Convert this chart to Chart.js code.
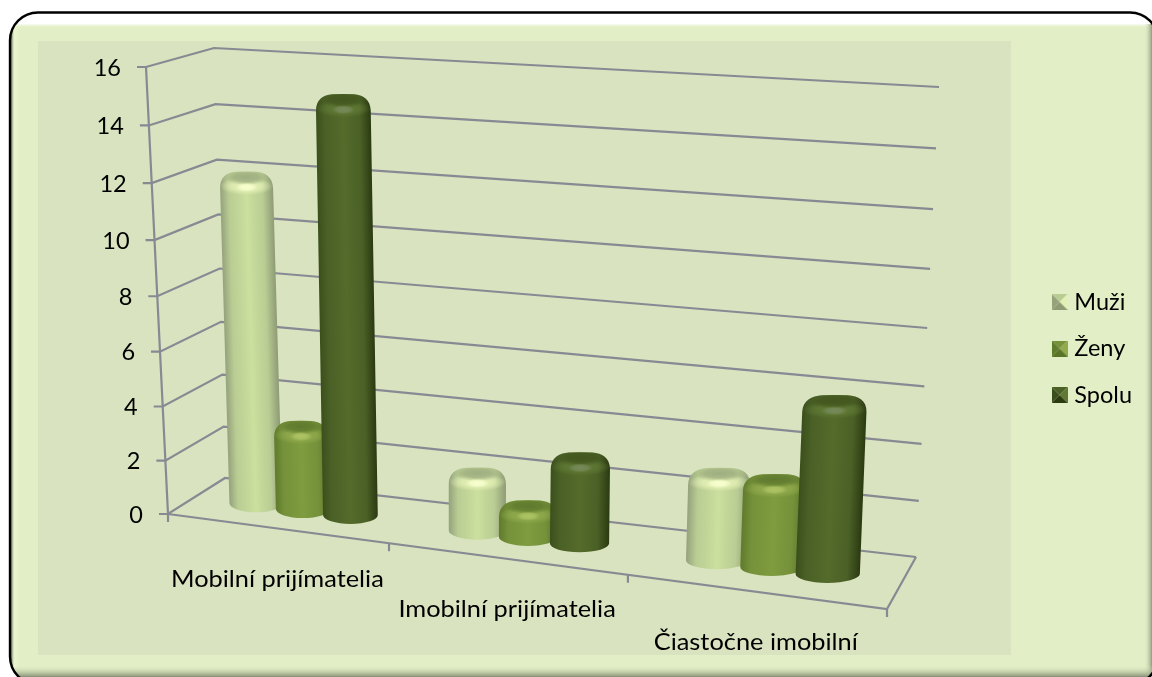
<!DOCTYPE html>
<html>
<head>
<meta charset="utf-8">
<style>
  html, body { margin: 0; padding: 0; background: #fff; }
  canvas { display: block; }
</style>
<script src="https://cdn.jsdelivr.net/npm/chart.js@4"></script>
</head>
<body>
<canvas id="canvas" width="1152" height="677"></canvas>
<script>
// data
var categories = ['Mobilní prijímatelia', 'Imobilní prijímatelia', 'Čiastočne imobilní'];
var seriesNames = ['Muži', 'Ženy', 'Spolu'];
var muzi = [12, 2, 3];
var zeny = [3, 1, 3];
var spolu = [15, 3, 6];
var yMax = 16;
var yStep = 2;

var fontName = 'Lato, Carlito, "Open Sans", sans-serif';
var fontPx = 23.5;

// colours of each cylinder, key is the dataset colour
var palette = {
    '#cbdf9e': { edgeL: '#95a27c', edgeR: '#8e9b75', soft: '#b9cc93', face: '#9fae80', band: '#e3f0b5', glow: '#f8ffcf' },
    '#7f9c3f': { edgeL: '#5f7b2c', edgeR: '#5a7428', soft: '#75913a', face: '#5f7a2d', band: '#90aa4c', glow: '#adc364' },
    '#546b2b': { edgeL: '#3b4f1c', edgeR: '#2b3a11', soft: '#4a6026', face: '#42561e', band: '#5f7834', glow: '#76895a' }
};
var barColors = ['#cbdf9e', '#7f9c3f', '#546b2b'];

// the box of the 3d chart on the page (f front, b back, l left, r right)
var box = {
    fbl: [168, 514], fbr: [887, 609], ftl: [146, 67], ftr: [911, 125],
    bbl: [225, 478], bbr: [916, 557], btl: [214, 48], btr: [939, 87]
};
var barDepth = 0.5;
var barShrink = 0.985; // bars stand inside the box, a little shorter than the walls
var capRy = 9;
var xs, ys;
var pending = [];

function warp(u, a) { return a * u / (1 + (a - 1) * u); }
function mix(p, q, u) { return [p[0] + (q[0] - p[0]) * u, p[1] + (q[1] - p[1]) * u]; }

function project(s, t, d) {
    var u = warp(s, 0.8876);
    var v = warp(t, 0.95);
    var f = mix(mix(box.fbl, box.fbr, u), mix(box.ftl, box.ftr, u), v);
    var b = mix(mix(box.bbl, box.bbr, u), mix(box.btl, box.btr, u), v);
    return mix(f, b, d);
}
function sOf(px) { return (px - xs.left) / xs.width; }
function tOf(py) { return (ys.bottom - py) / ys.height; }

function softSpot(ctx, x, y, rx, ry, color) {
    ctx.save();
    ctx.translate(x, y);
    ctx.scale(rx, ry);
    var g = ctx.createRadialGradient(0, 0, 0, 0, 0, 1);
    g.addColorStop(0, color);
    g.addColorStop(0.55, color + 'cc');
    g.addColorStop(1, color + '00');
    ctx.fillStyle = g;
    ctx.fillRect(-1, -1, 2, 2);
    ctx.restore();
}

function drawCylinder(ctx, el) {
    var p = el.getProps(['x', 'y', 'base', 'width'], false);
    var c = palette[el.options.backgroundColor];
    var s = sOf(p.x);
    var bot = project(s, tOf(p.base), barDepth);
    var top = mix(bot, project(s, tOf(p.y), barDepth), barShrink);
    var half = p.width / 2;
    var a = project(sOf(p.x - half), tOf(p.base), barDepth);
    var b = project(sOf(p.x + half), tOf(p.base), barDepth);
    var r = (b[0] - a[0]) / 2;
    var x = bot[0], yb = bot[1], yt = top[1];
    var k = (top[0] - bot[0]) / (yt - yb);

    ctx.save();
    ctx.transform(1, 0, k, 1, -k * yb, 0);

    ctx.beginPath();
    ctx.moveTo(x - r, yt + 7);
    ctx.lineTo(x - r, yb);
    ctx.ellipse(x, yb, r, capRy, 0, Math.PI, 0, true);
    ctx.lineTo(x + r, yt + 7);
    ctx.bezierCurveTo(x + r, yt - 4, x + r * 0.72, yt - capRy, x + r * 0.4, yt - capRy - 0.5);
    ctx.quadraticCurveTo(x, yt - capRy - 1, x - r * 0.4, yt - capRy - 0.5);
    ctx.bezierCurveTo(x - r * 0.72, yt - capRy, x - r, yt - 4, x - r, yt + 7);
    ctx.closePath();

    var g = ctx.createLinearGradient(x - r, 0, x + r, 0);
    g.addColorStop(0, c.edgeL);
    g.addColorStop(0.16, c.soft);
    g.addColorStop(0.5, el.options.backgroundColor);
    g.addColorStop(0.8, c.soft);
    g.addColorStop(1, c.edgeR);
    ctx.fillStyle = g;
    ctx.fill();

    ctx.clip();
    softSpot(ctx, x, yt + 5, r * 1.0, 9, c.band);
    softSpot(ctx, x, yt - 4, r * 0.85, 8, c.face);
    softSpot(ctx, x, yt + 6, r * 0.42, 4.5, c.glow);
    ctx.restore();
}

// the library hands every bar over here, they are painted later so that Spolu stays in front
Chart.BarElement.prototype.draw = function () {
    pending.push(this);
};

var boxPlugin = {
    id: 'box3d',
    beforeDraw: function (chart) {
        var ctx = chart.ctx;
        ctx.save();
        ctx.fillStyle = '#ffffff';
        ctx.fillRect(0, 0, chart.width, chart.height);

        ctx.beginPath();
        ctx.roundRect(10, 12.5, 1148, 672, 28);
        ctx.fillStyle = '#e2efc6';
        ctx.fill();
        ctx.save();
        ctx.clip();
        var g = ctx.createLinearGradient(10, 0, 20, 0);
        g.addColorStop(0, '#4f5644');
        g.addColorStop(0.4, '#eaf6ce');
        g.addColorStop(1, '#e2efc6');
        ctx.fillStyle = g;
        ctx.fillRect(10, 12, 10, 670);
        g = ctx.createLinearGradient(0, 13, 0, 28);
        g.addColorStop(0, '#ffffff');
        g.addColorStop(0.72, '#ffffff');
        g.addColorStop(1, 'rgba(226,239,198,0)');
        ctx.fillStyle = g;
        ctx.fillRect(10, 13, 1140, 15);
        g = ctx.createLinearGradient(1144, 0, 1152, 0);
        g.addColorStop(0, 'rgba(226,239,198,0)');
        g.addColorStop(1, '#8f9a80');
        ctx.fillStyle = g;
        ctx.fillRect(1144, 24, 8, 653);
        g = ctx.createLinearGradient(0, 665, 0, 677);
        g.addColorStop(0, 'rgba(226,239,198,0)');
        g.addColorStop(1, '#858e74');
        ctx.fillStyle = g;
        ctx.fillRect(10, 665, 1142, 12);
        ctx.restore();
        ctx.lineWidth = 2.4;
        ctx.strokeStyle = '#000000';
        ctx.stroke();

        // inner panel behind the plot
        ctx.fillStyle = '#d9e3bf';
        ctx.fillRect(38, 41, 973, 614);
        ctx.restore();
    },
    beforeDatasetsDraw: function (chart) {
        xs = chart.scales.x;
        ys = chart.scales.y;
        pending = [];
        var ctx = chart.ctx;
        ctx.save();
        ctx.strokeStyle = '#888993';
        ctx.lineWidth = 2.2;

        // walls, one line per tick of the value scale
        ys.ticks.forEach(function (tick) {
            var t = tOf(ys.getPixelForValue(tick.value));
            var p0 = project(0, t, 0), p1 = project(0, t, 1), p2 = project(1, t, 1);
            ctx.beginPath();
            ctx.moveTo(p0[0] - 9, p0[1]);
            ctx.lineTo(p0[0], p0[1]);
            ctx.lineTo(p1[0], p1[1]);
            ctx.lineTo(p2[0], p2[1]);
            ctx.stroke();
        });

        // value axis
        var a0 = project(0, 0, 0), a1 = project(0, 1, 0);
        ctx.beginPath();
        ctx.moveTo(a1[0], a1[1]);
        ctx.lineTo(a0[0], a0[1]);
        ctx.lineTo(a0[0], a0[1] + 8);
        ctx.stroke();

        // floor front and right edge
        var f0 = project(1, 0, 0), f1 = project(1, 0, 1);
        ctx.beginPath();
        ctx.moveTo(a0[0], a0[1]);
        ctx.lineTo(f0[0], f0[1]);
        ctx.lineTo(f1[0], f1[1]);
        ctx.stroke();

        // category ticks
        for (var i = 1; i <= categories.length; i++) {
            var m = project(i / categories.length, 0, 0);
            ctx.beginPath();
            ctx.moveTo(m[0], m[1]);
            ctx.lineTo(m[0], m[1] + 8);
            ctx.stroke();
        }
        ctx.restore();
    },
    afterDatasetsDraw: function (chart) {
        var ctx = chart.ctx;
        pending.slice().reverse().forEach(function (el) { drawCylinder(ctx, el); });

        ctx.save();
        ctx.fillStyle = '#000000';
        ctx.font = fontPx + 'px ' + fontName;
        ctx.textBaseline = 'middle';

        ctx.textAlign = 'right';
        ys.ticks.forEach(function (tick) {
            var p = project(0, tOf(ys.getPixelForValue(tick.value)), 0);
            ctx.fillText(tick.label, p[0] - 25, p[1] + 1);
        });

        // the labels in the reference are a bit wider than the font
        ctx.textAlign = 'center';
        xs.ticks.forEach(function (tick, i) {
            var p = project(sOf(xs.getPixelForTick(i)), 0, 0);
            ctx.save();
            ctx.translate(p[0] + 1, p[1] + 51);
            ctx.scale(1.08, 1);
            ctx.fillText(categories[tick.value], 0, 0);
            ctx.restore();
        });
        ctx.restore();
    }
};

function swatch(c) {
    var cv = document.createElement('canvas');
    cv.width = 16;
    cv.height = 16;
    var g = cv.getContext('2d');
    var faces = [
        [c.soft, [0, 0], [16, 0]],
        [c.band, [16, 0], [16, 16]],
        [c.edgeR, [16, 16], [0, 16]],
        [c.edgeL, [0, 16], [0, 0]]
    ];
    faces.forEach(function (f) {
        g.fillStyle = f[0];
        g.beginPath();
        g.moveTo(f[1][0], f[1][1]);
        g.lineTo(f[2][0], f[2][1]);
        g.lineTo(8, 8);
        g.closePath();
        g.fill();
    });
    return cv;
}

var swatches = barColors.map(function (col) { return swatch(palette[col]); });

var ctx = document.getElementById('canvas');
new Chart(ctx, {
    type: 'bar',
    data: {
        labels: categories,
        datasets: [
            { label: seriesNames[0], data: muzi, backgroundColor: barColors[0] },
            { label: seriesNames[1], data: zeny, backgroundColor: barColors[1] },
            { label: seriesNames[2], data: spolu, backgroundColor: barColors[2] }
        ]
    },
    options: {
        responsive: false,
        animation: false,
        barPercentage: 1.14,
        categoryPercentage: 0.654,
        layout: { padding: { top: 20, right: 10 } },
        scales: {
            x: { display: false, grid: { display: false } },
            y: { display: false, min: 0, max: yMax, ticks: { stepSize: yStep } }
        },
        plugins: {
            tooltip: { enabled: false },
            legend: {
                position: 'right',
                labels: {
                    color: '#000000',
                    font: { family: fontName, size: fontPx },
                    usePointStyle: true,
                    pointStyleWidth: 6,
                    padding: 23,
                    generateLabels: function (chart) {
                        var items = Chart.defaults.plugins.legend.labels.generateLabels(chart);
                        items.forEach(function (it, i) { it.pointStyle = swatches[i]; });
                        return items;
                    }
                }
            }
        }
    },
    plugins: [boxPlugin]
});
</script>
</body>
</html>
